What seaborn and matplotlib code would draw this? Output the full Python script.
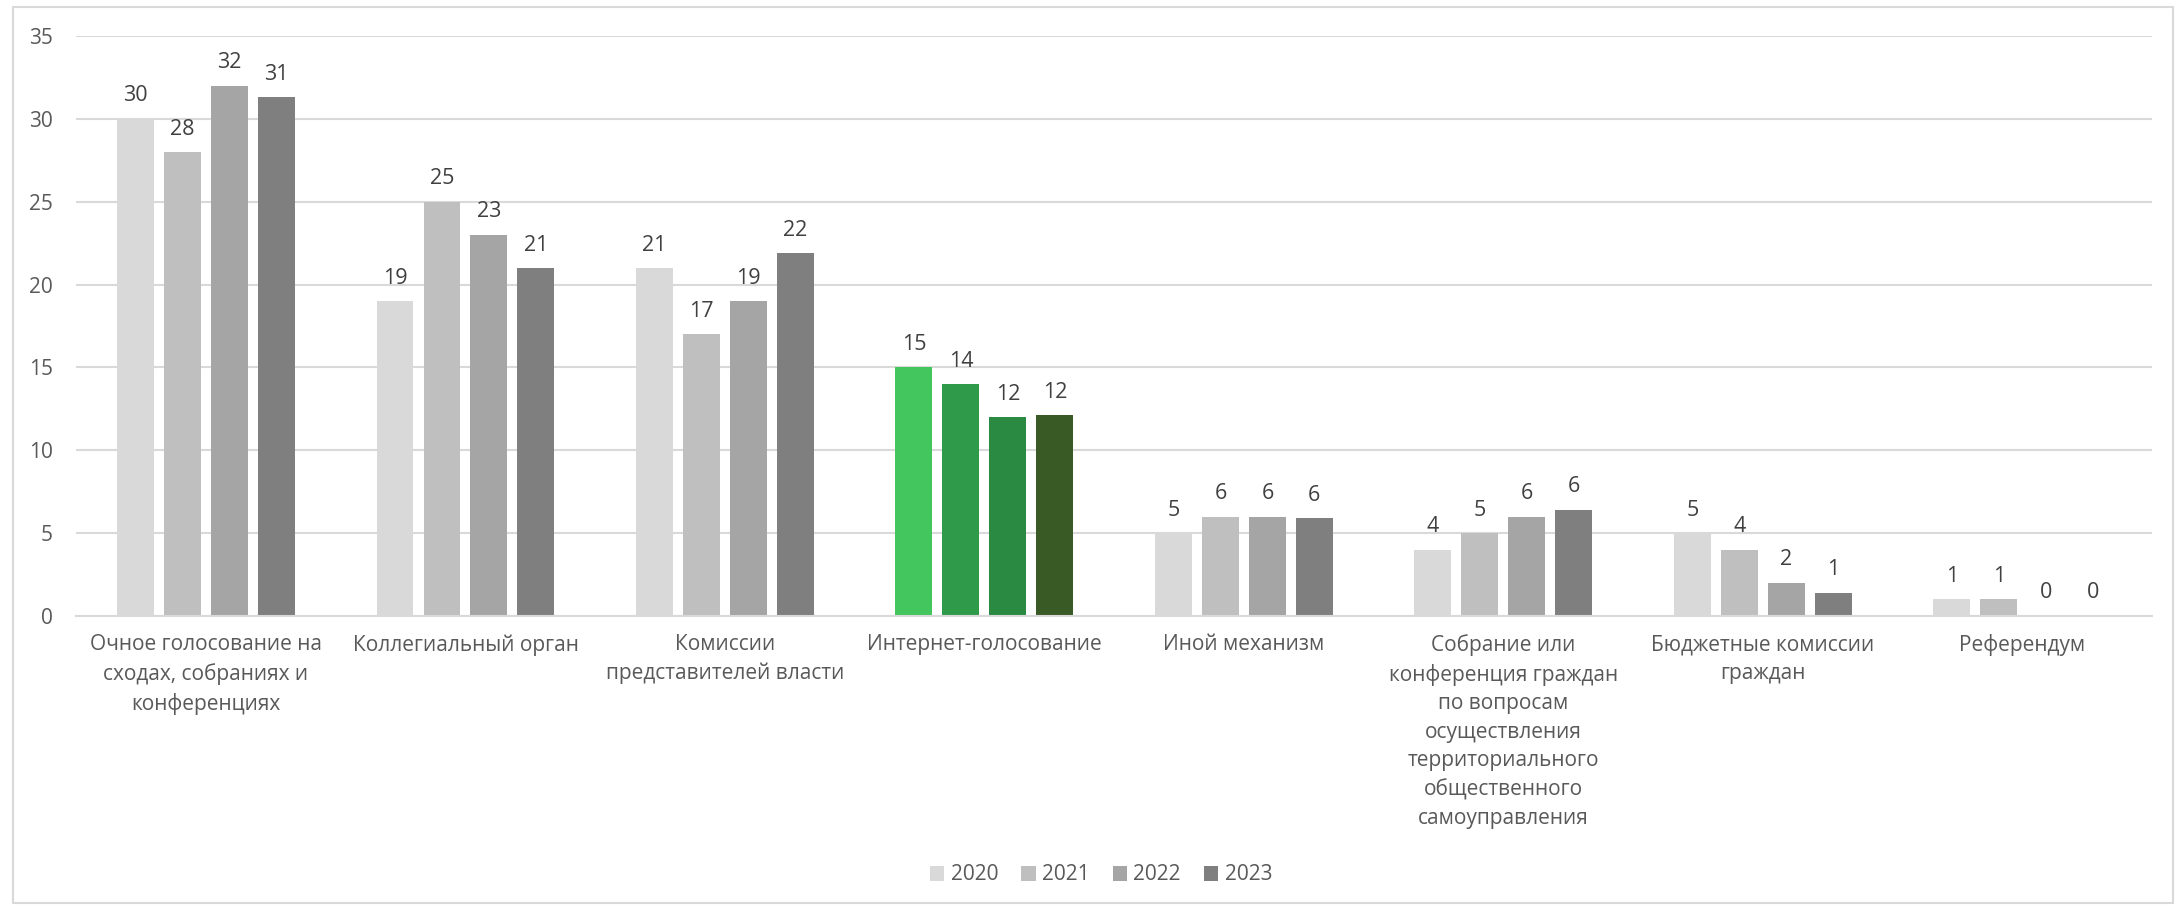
import numpy as np
import pandas as pd
import matplotlib
matplotlib.use("Agg")
import matplotlib.pyplot as plt
from matplotlib.patches import Rectangle, Patch
import seaborn as sns

# ---------------- data ----------------
categories = [
    "Очное голосование на сходах, собраниях и конференциях",
    "Коллегиальный орган",
    "Комиссии представителей власти",
    "Интернет-голосование",
    "Иной механизм",
    "Собрание или конференция граждан по вопросам осуществления территориального общественного самоуправления",
    "Бюджетные комиссии граждан",
    "Референдум",
]
tick_labels = [
    "Очное голосование на\nсходах, собраниях и\nконференциях",
    "Коллегиальный орган",
    "Комиссии\nпредставителей власти",
    "Интернет-голосование",
    "Иной механизм",
    "Собрание или\nконференция граждан\nпо вопросам\nосуществления\nтерриториального\nобщественного\nсамоуправления",
    "Бюджетные комиссии\nграждан",
    "Референдум",
]
years = ["2020", "2021", "2022", "2023"]
v2020 = [30, 19, 21, 15, 5, 4, 5, 1]
v2021 = [28, 25, 17, 14, 6, 5, 4, 1]
v2022 = [32, 23, 19, 12, 6, 6, 2, 0]
v2023 = [31.3, 21, 21.9, 12.1, 5.9, 6.4, 1.4, 0]
yticks = [0, 5, 10, 15, 20, 25, 30, 35]

gray_colors = ["#D9D9D9", "#BFBFBF", "#A5A5A5", "#7F7F7F"]
green_colors = ["#43C65D", "#2E9A4A", "#2A8A42", "#3A5A25"]
highlight = "Интернет-голосование"

# ---------------- style ----------------
sns.set_theme(style="white")
plt.rcParams["font.family"] = ["Open Sans", "DejaVu Sans"]

df = pd.DataFrame({
    "cat": categories * 4,
    "year": np.repeat(years, len(categories)),
    "value": v2020 + v2021 + v2022 + v2023,
})

W, H = 2180, 910
fig = plt.figure(figsize=(W / 100, H / 100), dpi=100)
x0, x1, ytop, ybot = 76.3, 2152, 36, 616
ax = fig.add_axes([x0 / W, 1 - ybot / H, (x1 - x0) / W, (ybot - ytop) / H])

sns.barplot(data=df, x="cat", y="value", hue="year", order=categories,
            hue_order=years, palette=gray_colors, saturation=1,
            width=0.7245, gap=0.213, errorbar=None, linewidth=0,
            legend=False, ax=ax)

hi = categories.index(highlight)
for h, cont in enumerate(ax.containers):
    best = min(cont.patches, key=lambda p: abs(p.get_x() + p.get_width() / 2 - hi))
    best.set_facecolor(green_colors[h])
    ax.bar_label(cont, labels=[f"{v:.0f}" for v in cont.datavalues],
                 padding=9, fontsize=15.5, color="#404040")

ax.set_xlim(-0.5, len(categories) - 0.5)
ax.set_ylim(0, 35)
ax.set_yticks(yticks)
ax.set_yticklabels([str(t) for t in yticks])
ax.set_xticks(range(len(categories)))
ax.set_xticklabels(tick_labels, linespacing=1.47, va="top")
ax.set_xlabel("")
ax.set_ylabel("")
ax.grid(axis="y", color="#D9D9D9", linewidth=1.5)
ax.set_axisbelow(True)
for s in ["left", "right", "top"]:
    ax.spines[s].set_visible(False)
ax.spines["bottom"].set_color("#D9D9D9")
ax.spines["bottom"].set_linewidth(1.5)
ax.tick_params(axis="y", length=0, pad=17, labelcolor="#595959", labelsize=15)
ax.tick_params(axis="x", length=0, pad=13, labelcolor="#595959", labelsize=15)

# legend
handles = [Patch(facecolor=c, edgecolor="none") for c in gray_colors]
fig.legend(handles, years, loc="center", bbox_to_anchor=(1101 / W, 1 - 875 / H),
           ncol=4, frameon=False, handlelength=0.7, handleheight=0.7,
           handletextpad=0.3, columnspacing=1.1, fontsize=15, labelcolor="#595959")

# outer chart border
fig.add_artist(Rectangle((13 / W, 1 - 903 / H), (2173 - 13) / W, (903 - 7) / H,
                         transform=fig.transFigure, fill=False,
                         edgecolor="#D9D9D9", linewidth=1.5))

fig.savefig("out.png", dpi=100)
